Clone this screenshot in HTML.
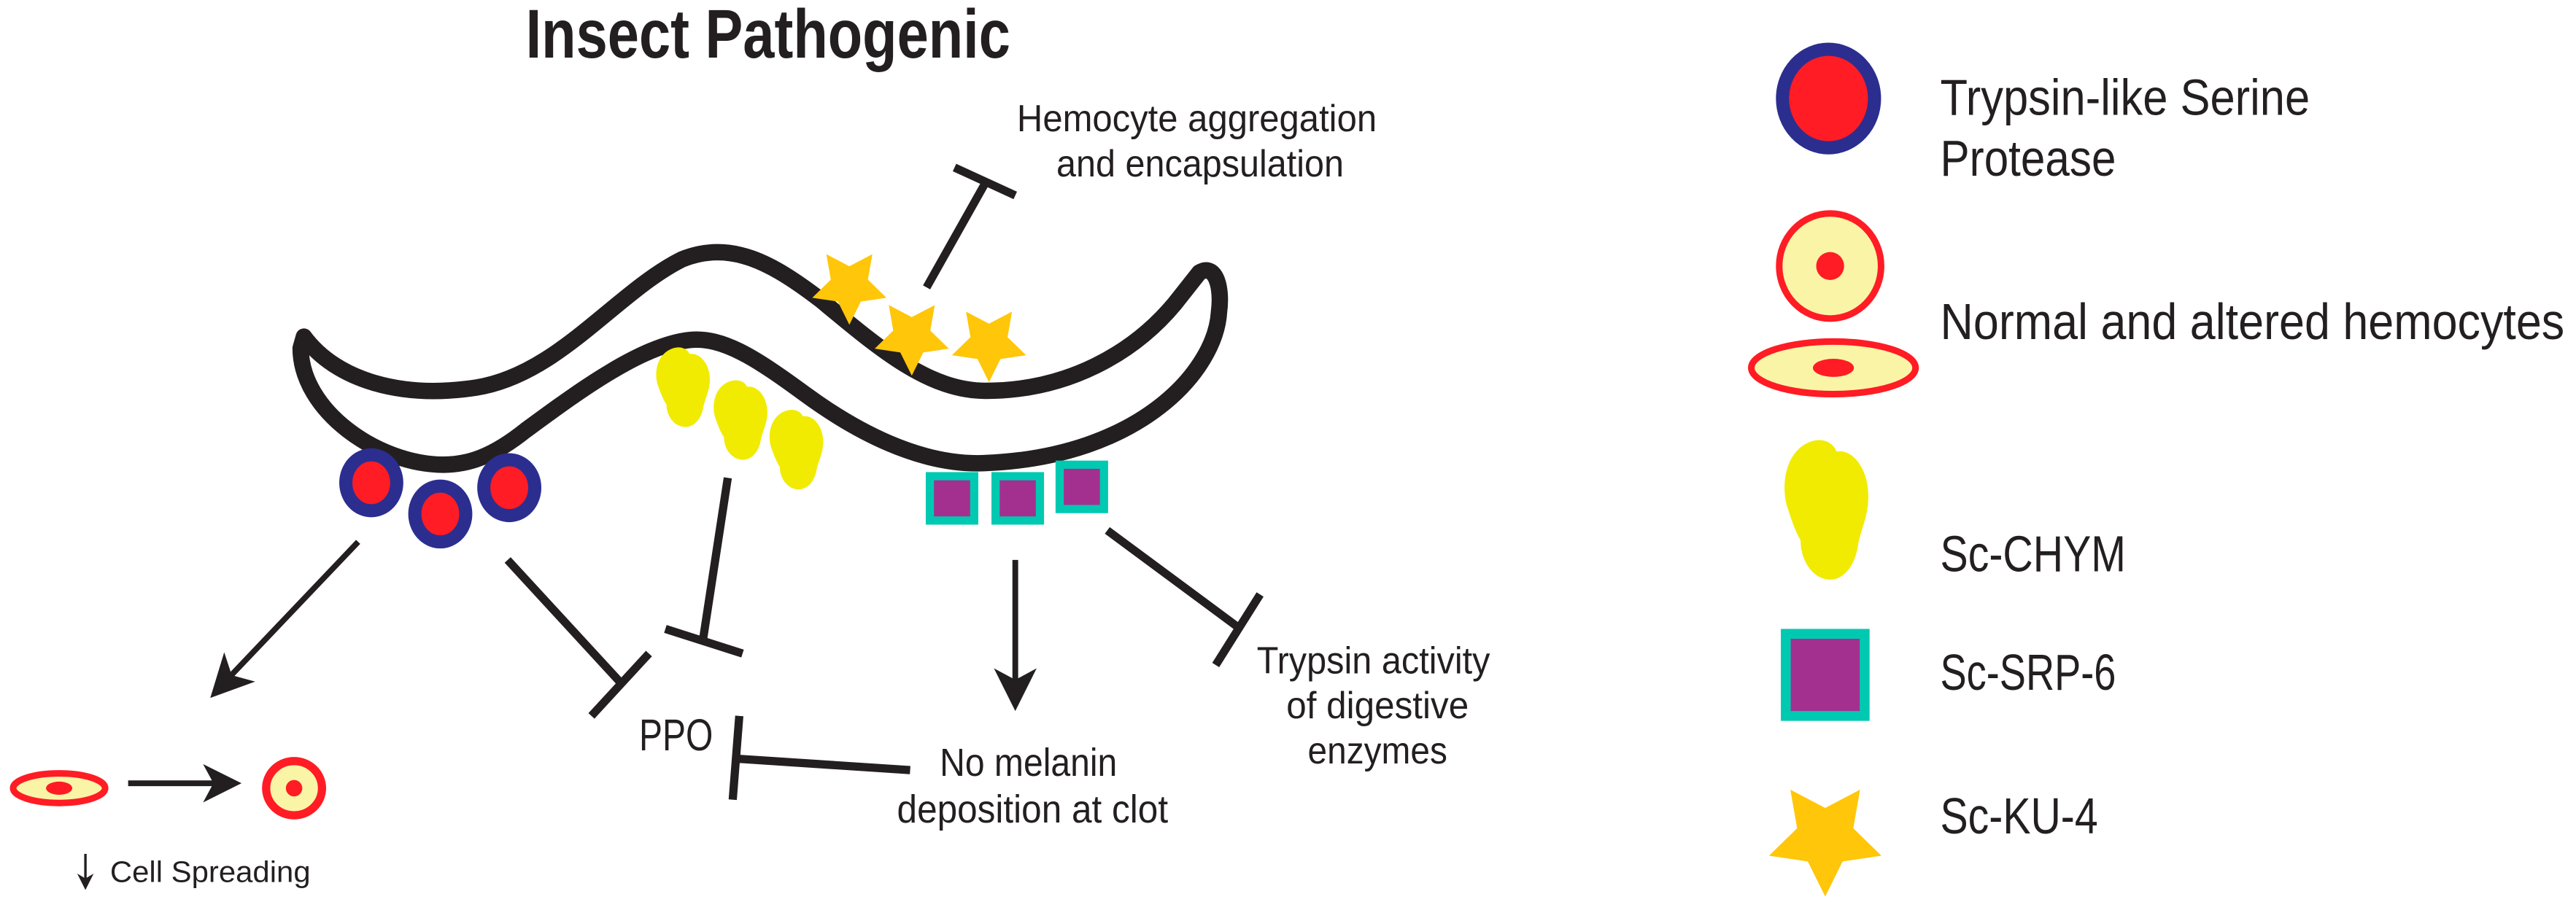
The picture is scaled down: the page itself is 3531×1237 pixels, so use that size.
<!DOCTYPE html>
<html><head><meta charset="utf-8"><style>
html,body{margin:0;padding:0;background:#fff;}
svg{display:block;}
text{font-family:"Liberation Sans",sans-serif;fill:#231f20;}
</style></head><body>
<svg width="3531" height="1237" viewBox="0 0 1568 549.3" xmlns="http://www.w3.org/2000/svg">
<defs>
<path id="blob" d="M18,2 C26,-1 32,3 34,8 C44,6 55,20 53,40 C52,50 48,58 47,65 C45,78 38,86 30,86 C20,86 12,75 12,62 C8,55 6,48 4,42 C0,30 2,8 18,2 Z" fill="#f0eb00"/>
<path id="star" d="M0,36 L-10.6,14.6 L-34.2,11.1 L-17.1,-5.6 L-21.2,-29.1 L0,-18 L21.2,-29.1 L17.1,-5.6 L34.2,11.1 L10.6,14.6 Z" fill="#ffc60a"/>
<path id="head" d="M0,0 L-26,-13 L-19,0 L-26,13 Z" fill="#231f20"/>
</defs>

<text x="320" y="35" font-size="42" font-weight="bold" textLength="295" lengthAdjust="spacingAndGlyphs">Insect Pathogenic</text>

<path d="M185,205 C205,232 245,243 290,236 C340,228 375,178 415,158 C445,146 470,160 500,183 C535,212 565,238 600,238 C650,238 690,215 715,185 L730,166 C740,160 744,175 742,190 C740,225 695,278 600,282 C560,284 520,262 490,240 C460,218 440,205 420,207 C390,210 350,240 320,262 C300,278 285,283 270,283 C230,283 183,250 183,212 Z" fill="#fff" stroke="#231f20" stroke-width="10" stroke-linejoin="round"/>

<use href="#star" transform="translate(517,174) scale(0.66)"/>
<use href="#star" transform="translate(555,205) scale(0.66)"/>
<use href="#star" transform="translate(602,209) scale(0.66)"/>

<line x1="564" y1="175" x2="600" y2="111" stroke="#231f20" stroke-width="5"/>
<line x1="581" y1="102" x2="618" y2="119" stroke="#231f20" stroke-width="5"/>
<text x="619" y="80" font-size="23" textLength="219" lengthAdjust="spacingAndGlyphs">Hemocyte aggregation</text>
<text x="643" y="107.5" font-size="23" textLength="175" lengthAdjust="spacingAndGlyphs">and encapsulation</text>

<use href="#blob" transform="translate(398,211) scale(0.64,0.57)"/>
<use href="#blob" transform="translate(433,231) scale(0.64,0.57)"/>
<use href="#blob" transform="translate(467,249) scale(0.64,0.57)"/>

<g fill="#ff1c24" stroke="#2b2e8f" stroke-width="8">
<ellipse cx="226" cy="294" rx="15.5" ry="17"/>
<ellipse cx="268" cy="313" rx="15.5" ry="17"/>
<ellipse cx="310" cy="297" rx="15.5" ry="17"/>
</g>

<g fill="#a3308f" stroke="#00c9b1" stroke-width="5">
<rect x="566" y="290" width="27" height="27"/>
<rect x="606" y="290" width="27" height="27"/>
<rect x="645" y="283" width="27" height="27"/>
</g>

<line x1="218" y1="330" x2="140" y2="412" stroke="#231f20" stroke-width="3.5"/>
<use href="#head" transform="translate(128,425) rotate(133.5)"/>

<line x1="309" y1="341" x2="378" y2="416" stroke="#231f20" stroke-width="5"/>
<line x1="395" y1="398" x2="360" y2="436" stroke="#231f20" stroke-width="5"/>

<line x1="443" y1="291" x2="428" y2="389" stroke="#231f20" stroke-width="5"/>
<line x1="405" y1="383" x2="452" y2="398" stroke="#231f20" stroke-width="5"/>

<line x1="618" y1="341" x2="618" y2="415" stroke="#231f20" stroke-width="3.5"/>
<use href="#head" transform="translate(618,433) rotate(90)"/>

<line x1="674" y1="323" x2="755" y2="383" stroke="#231f20" stroke-width="5"/>
<line x1="767" y1="362" x2="740" y2="405" stroke="#231f20" stroke-width="5"/>

<line x1="554" y1="469" x2="448" y2="462" stroke="#231f20" stroke-width="5"/>
<line x1="450" y1="436" x2="446" y2="487" stroke="#231f20" stroke-width="5"/>

<text x="389" y="457" font-size="27" textLength="45" lengthAdjust="spacingAndGlyphs">PPO</text>
<text x="572" y="472.5" font-size="24" textLength="108" lengthAdjust="spacingAndGlyphs">No melanin</text>
<text x="546" y="501" font-size="24" textLength="165" lengthAdjust="spacingAndGlyphs">deposition at clot</text>
<text x="765" y="410" font-size="23" textLength="142" lengthAdjust="spacingAndGlyphs">Trypsin activity</text>
<text x="783" y="437.5" font-size="23" textLength="111" lengthAdjust="spacingAndGlyphs">of digestive</text>
<text x="796" y="465" font-size="23" textLength="85" lengthAdjust="spacingAndGlyphs">enzymes</text>

<ellipse cx="36" cy="480" rx="28" ry="9" fill="#faf5a6" stroke="#ff1c24" stroke-width="4"/>
<ellipse cx="36" cy="480" rx="8" ry="4" fill="#ff1c24"/>
<line x1="78" y1="477" x2="132" y2="477" stroke="#231f20" stroke-width="3.5"/>
<use href="#head" transform="translate(147,477) scale(0.9)"/>
<ellipse cx="179" cy="480" rx="17" ry="16.5" fill="#faf5a6" stroke="#ff1c24" stroke-width="5"/>
<circle cx="179" cy="480" r="5" fill="#ff1c24"/>

<line x1="52" y1="520" x2="52" y2="536" stroke="#231f20" stroke-width="1.5"/>
<path d="M52,542 L47,532 L52,535 L57,532 Z" fill="#231f20"/>
<text x="67" y="537" font-size="18" textLength="122" lengthAdjust="spacingAndGlyphs">Cell Spreading</text>

<ellipse cx="1113" cy="60" rx="28" ry="30" fill="#ff1c24" stroke="#2b2e8f" stroke-width="8"/>
<text x="1181" y="70" font-size="31" textLength="225" lengthAdjust="spacingAndGlyphs">Trypsin-like Serine</text>
<text x="1181" y="107" font-size="31" textLength="107" lengthAdjust="spacingAndGlyphs">Protease</text>

<ellipse cx="1114" cy="162" rx="31" ry="32" fill="#faf5a6" stroke="#ff1c24" stroke-width="4"/>
<circle cx="1114" cy="162" r="8.5" fill="#ff1c24"/>
<ellipse cx="1116" cy="224" rx="50" ry="16" fill="#faf5a6" stroke="#ff1c24" stroke-width="4"/>
<ellipse cx="1116" cy="224" rx="12.5" ry="5.5" fill="#ff1c24"/>
<text x="1181" y="206.5" font-size="31" textLength="380" lengthAdjust="spacingAndGlyphs">Normal and altered hemocytes</text>

<use href="#blob" transform="translate(1084,267)"/>
<text x="1181" y="348" font-size="31" textLength="113" lengthAdjust="spacingAndGlyphs">Sc-CHYM</text>

<rect x="1087" y="386" width="48" height="50" fill="#a3308f" stroke="#00c9b1" stroke-width="6"/>
<text x="1181" y="420" font-size="31" textLength="107" lengthAdjust="spacingAndGlyphs">Sc-SRP-6</text>

<use href="#star" transform="translate(1111,510)"/>
<text x="1181" y="507.5" font-size="31" textLength="96" lengthAdjust="spacingAndGlyphs">Sc-KU-4</text>
</svg>
</body></html>
